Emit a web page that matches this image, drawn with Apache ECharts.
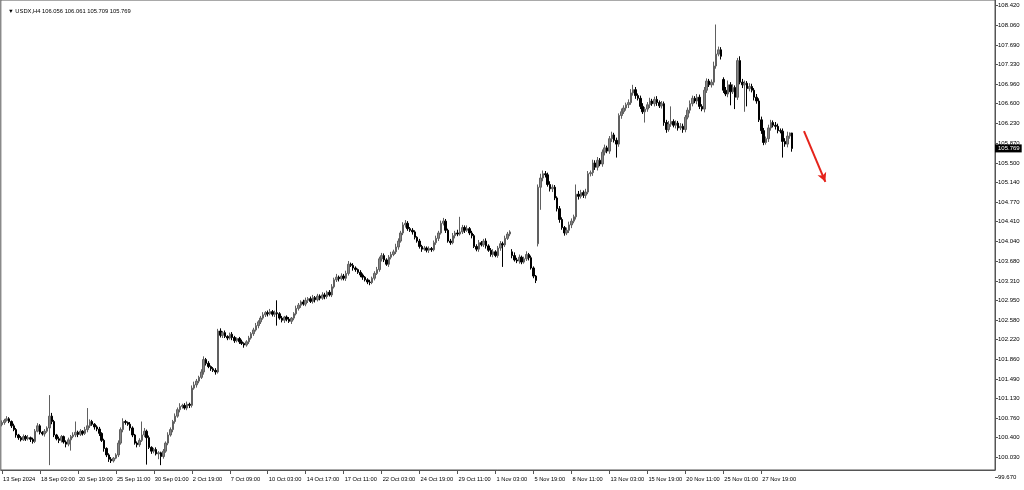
<!DOCTYPE html>
<html>
<head>
<meta charset="utf-8">
<script src="https://cdn.jsdelivr.net/npm/echarts@6/dist/echarts.min.js"></script>
<style>
html,body{margin:0;padding:0;background:#ffffff;}
#chart{width:1024px;height:490px;}
</style>
</head>
<body>
<div id="chart"></div>
<script>
// ---------------- DATA ----------------
const symbolName = 'USDX,H4';

const timeLabels = ['13 Sep 2024','18 Sep 03:00','20 Sep 19:00','25 Sep 11:00','30 Sep 01:00','2 Oct 19:00',
  '7 Oct 09:00','10 Oct 03:00','14 Oct 17:00','17 Oct 11:00','22 Oct 03:00','24 Oct 19:00','29 Oct 11:00',
  '1 Nov 03:00','5 Nov 19:00','8 Nov 11:00','13 Nov 03:00','15 Nov 19:00','20 Nov 11:00','25 Nov 01:00','27 Nov 19:00'];

const priceTicks = [108.420,108.060,107.690,107.330,106.960,106.600,106.230,105.870,105.500,105.140,104.770,
  104.410,104.040,103.680,103.310,102.950,102.580,102.220,101.860,101.490,101.130,100.760,100.400,100.030,99.670];

// closing price of every H4 bar
const closes = [
  100.68,100.72,100.75,100.70,100.62,100.55,100.45,100.40,100.36,100.42,
  100.38,100.40,100.37,100.33,100.52,100.62,100.50,100.47,100.52,100.58,
  100.80,100.70,100.45,100.38,100.35,100.42,100.32,100.28,100.36,100.42,
  100.45,100.50,100.46,100.52,100.48,100.55,100.62,100.70,100.65,100.60,
  100.56,100.48,100.35,100.20,100.08,100.00,99.97,100.02,100.08,100.30,
  100.55,100.70,100.68,100.65,100.58,100.45,100.30,100.27,100.35,100.45,
  100.52,100.40,100.22,100.15,100.18,100.10,100.12,100.05,100.15,100.30,
  100.45,100.55,100.70,100.80,100.92,100.98,101.00,100.95,101.02,101.00,
  101.32,101.38,101.45,101.52,101.62,101.85,101.78,101.72,101.68,101.65,
  101.62,102.38,102.30,102.35,102.28,102.25,102.32,102.26,102.20,102.24,
  102.18,102.15,102.12,102.18,102.25,102.33,102.40,102.48,102.55,102.62,
  102.68,102.72,102.70,102.74,102.69,102.72,102.70,102.62,102.58,102.64,
  102.60,102.56,102.62,102.70,102.80,102.86,102.92,102.88,102.95,102.98,
  102.93,103.00,102.96,103.03,102.99,103.05,103.02,103.10,103.05,103.20,
  103.33,103.38,103.35,103.40,103.36,103.45,103.62,103.60,103.55,103.52,
  103.47,103.42,103.38,103.33,103.29,103.28,103.36,103.45,103.52,103.72,
  103.78,103.70,103.62,103.75,103.80,103.85,103.94,104.05,104.20,104.35,
  104.38,104.28,104.25,104.22,104.12,104.05,103.95,103.90,103.92,103.88,
  103.91,103.89,104.02,104.10,104.20,104.38,104.42,104.25,104.05,104.02,
  104.15,104.20,104.18,104.22,104.30,104.25,104.28,104.20,104.15,103.95,
  103.90,104.02,103.98,104.05,103.96,103.88,103.80,103.85,103.78,103.92,
  104.00,103.98,104.10,104.18,104.22,103.78,103.70,103.68,103.75,103.66,
  103.72,103.80,103.74,103.55,103.40,103.32,105.05,105.22,105.30,105.28,
  105.10,105.02,105.05,104.85,104.65,104.45,104.30,104.20,104.25,104.35,
  104.42,104.50,104.92,104.88,104.95,104.90,104.96,105.30,105.32,105.50,
  105.42,105.55,105.48,105.70,105.78,105.72,105.95,106.02,105.92,105.85,
  106.38,106.45,106.52,106.58,106.62,106.80,106.86,106.75,106.70,106.55,
  106.45,106.50,106.58,106.65,106.60,106.68,106.62,106.56,106.60,106.25,
  106.12,106.22,106.27,106.20,106.24,106.15,106.18,106.12,106.35,106.48,
  106.60,106.70,106.65,106.72,106.55,106.50,106.85,107.02,106.95,107.00,
  107.30,107.52,107.60,107.48,106.85,106.78,106.95,106.82,106.90,106.72,
  107.40,107.00,106.95,106.98,106.88,106.92,106.85,106.72,106.65,106.30,
  106.10,105.88,105.95,106.15,106.25,106.20,106.18,106.10,106.09,105.90,
  105.85,106.00,106.056,105.769
];

// bars whose open is not the previous close (weekend / news gaps): [bar, open]
const gapOpens = [[0,100.64],[215,103.85],[226,104.00],[304,107.05]];

// upper / lower shadows, in hundredths of a point
const wickUp = [
  4,3,5,3,2,4,3,2,3,4, 3,5,2,3,4,5,3,2,4,3,
  39,6,3,2,4,3,2,3,4,3, 5,20,3,4,2,5,33,4,3,2,
  3,4,2,3,2,3,4,2,3,5, 4,6,3,2,4,3,2,3,4,25,
  6,3,4,2,3,4,3,2,4,3, 5,4,3,5,4,6,3,4,5,3,
  5,6,4,3,5,6,3,4,2,3, 4,4,5,3,4,2,3,4,3,2,
  3,4,2,3,4,3,4,5,3,4, 5,3,4,5,3,4,23,3,4,2,
  3,4,2,3,5,4,3,4,5,3, 4,5,3,4,3,5,4,3,4,5,
  4,6,3,5,4,5,6,3,4,3, 2,4,3,2,3,4,3,4,5,4,
  5,4,3,4,5,4,6,5,4,5, 6,4,3,4,3,2,4,3,4,3,
  4,3,4,5,4,5,6,4,3,4, 5,4,6,28,5,4,6,3,4,3,
  4,5,3,4,5,3,4,5,3,4, 5,4,5,4,3,5,6,4,5,3,
  4,6,3,4,3,2,5,8,6,5, 4,6,5,4,3,5,4,3,5,6,
  5,4,18,6,5,4,6,5,4,6, 5,6,4,5,6,4,5,6,4,5,
  4,6,5,4,6,7,9,5,4,5, 6,4,5,6,4,5,6,4,5,4,
  5,6,28,4,5,4,6,5,4,5, 6,5,4,6,5,4,6,5,4,5,
  8,55,6,5,4,6,8,5,6,4, 5,8,6,5,4,6,5,4,6,5,
  6,5,4,6,5,4,6,5,4,5,
  6,8,1,0.5
];
const wickDn = [
  3,4,2,3,4,3,5,4,3,2, 4,3,5,4,3,2,4,3,5,3,
  69,5,4,3,5,4,3,6,4,20, 3,4,5,3,4,3,5,4,3,5,
  4,5,3,6,4,5,4,3,2,4, 3,5,4,3,5,4,3,5,4,3,
  4,50,3,5,4,3,10,16,4,3, 4,3,5,4,3,5,4,3,4,5,
  4,3,5,4,3,5,4,3,4,3, 5,3,4,5,3,4,3,5,4,3,
  4,3,5,3,4,3,4,3,5,4, 3,4,5,3,4,5,22,3,4,5,
  4,3,5,4,3,4,5,3,4,5, 3,4,5,3,4,3,5,4,3,4,
  3,4,5,3,4,5,4,3,5,4, 3,4,5,3,4,5,3,4,3,4,
  5,4,3,5,4,3,4,5,3,4, 5,4,3,5,4,3,4,5,3,4,
  5,4,3,4,5,3,4,5,3,4, 3,5,4,3,4,5,3,4,5,3,
  4,5,3,4,5,3,4,5,3,4, 5,41,4,3,4,5,3,4,5,4,
  3,4,5,3,4,5,5,42,6,5, 4,5,6,4,5,6,4,5,4,5,
  6,4,5,6,4,5,6,4,5,6, 5,6,4,5,6,4,5,6,4,25,
  5,6,4,5,6,4,5,6,4,5, 4,20,5,6,4,5,6,4,5,6,
  6,4,5,4,6,5,4,6,5,4, 6,5,4,6,5,4,6,5,4,5,
  6,5,4,6,5,4,6,25,4,22, 5,4,6,50,33,5,4,6,5,4,
  6,5,4,6,5,4,6,5,4,30,
  5,6,5,6
];

// hand-drawn forecast arrow: [bar slot, price]
const arrowFrom = [338, 106.09];
const arrowTo = [347, 105.15];

// ---------------- LAYOUT / BUILD ----------------
const BARS_PER_LABEL = 16;
const TOTAL_SLOTS = 419;          // chart keeps empty space to the right
const Y_TOP = 108.525;            // price at the top edge of the chart
const PLOT_H = 470, LABEL_H = 477;
const pxPerPoint = LABEL_H / (Y_TOP - priceTicks[priceTicks.length - 1]);
const dataMin = Y_TOP - PLOT_H / pxPerPoint;

const gapMap = new Map(gapOpens);
const candles = closes.map((c, i) => {
  const o = gapMap.has(i) ? gapMap.get(i) : closes[i - 1];
  const up = (wickUp[i] !== undefined ? wickUp[i] : 3) / 100;
  const dn = (wickDn[i] !== undefined ? wickDn[i] : 3) / 100;
  return [o, c, +(Math.min(o, c) - dn).toFixed(3), +(Math.max(o, c) + up).toFixed(3)];
});
const categories = Array.from({length: TOTAL_SLOTS}, (_, i) =>
  (i % BARS_PER_LABEL === 0 && timeLabels[i / BARS_PER_LABEL]) ? timeLabels[i / BARS_PER_LABEL] : '');

const last = candles[candles.length - 1];
const header = '▼ ' + symbolName + ' ' + [last[0], last[3], last[2], last[1]].map(v => v.toFixed(3)).join(' ');

const FONT = 'Liberation Sans';
const chart = echarts.init(document.getElementById('chart'), null, {renderer: 'canvas'});
chart.setOption({
  animation: false,
  backgroundColor: '#ffffff',
  title: {
    text: header, left: 3, top: 3,
    textStyle: {fontSize: 5.8, fontWeight: 'normal', color: '#000', fontFamily: FONT}
  },
  grid: [
    {left: 0, right: 29, top: 0, height: PLOT_H, show: true, borderColor: '#555', borderWidth: 1, backgroundColor: 'transparent'},
    {left: 0, right: 29, top: 0, height: LABEL_H, show: false}
  ],
  xAxis: [
    {
      type: 'category', gridIndex: 0, data: categories, boundaryGap: true,
      axisLine: {show: true, lineStyle: {color: '#555', width: 1}},
      axisTick: {show: true, alignWithLabel: true, length: 4, lineStyle: {color: '#555'},
        interval: (idx, val) => val !== ''},
      axisLabel: {show: true, interval: (idx, val) => val !== '', align: 'left', margin: 6,
        padding: [0, 0, 0, 1], fontSize: 5.7, color: '#000', fontFamily: FONT},
      splitLine: {show: false}
    },
    {type: 'category', gridIndex: 1, data: categories, show: false}
  ],
  yAxis: [
    {
      type: 'value', gridIndex: 0, position: 'right', min: dataMin, max: Y_TOP, scale: true,
      axisLine: {show: true, lineStyle: {color: '#555', width: 1}},
      axisTick: {show: false}, axisLabel: {show: false}, splitLine: {show: false}
    },
    {
      type: 'value', gridIndex: 1, position: 'right', min: priceTicks[priceTicks.length - 1], max: Y_TOP, scale: true,
      axisLine: {show: false},
      axisTick: {show: true, length: 3, customValues: priceTicks, lineStyle: {color: '#555'}},
      axisLabel: {show: true, customValues: priceTicks, margin: 3, fontSize: 6, color: '#000', fontFamily: FONT,
        formatter: v => v.toFixed(3)},
      splitLine: {show: false}
    }
  ],
  series: [{
    type: 'candlestick',
    xAxisIndex: 0, yAxisIndex: 0,
    data: candles,
    barWidth: 2,
    itemStyle: {color: '#858585', color0: '#000000', borderColor: '#606060', borderColor0: '#000000', borderWidth: 1},
    markLine: {
      silent: true,
      symbol: ['none', 'none'],
      animation: false,
      data: [
        {
          yAxis: last[1],
          lineStyle: {color: 'rgba(0,0,0,0)', width: 1},
          label: {show: true, position: 'end', distance: 0, formatter: () => last[1].toFixed(3),
            color: '#ffffff', backgroundColor: '#000000', padding: [1, 2, 1, 3], fontSize: 6, fontFamily: FONT}
        },
        [
          {coord: arrowFrom, symbol: 'none', lineStyle: {color: '#e5231b', width: 2, type: 'solid'}, label: {show: false}},
          {coord: arrowTo, symbol: 'arrow', symbolSize: [7, 9]}
        ]
      ]
    }
  }]
});
</script>
</body>
</html>
